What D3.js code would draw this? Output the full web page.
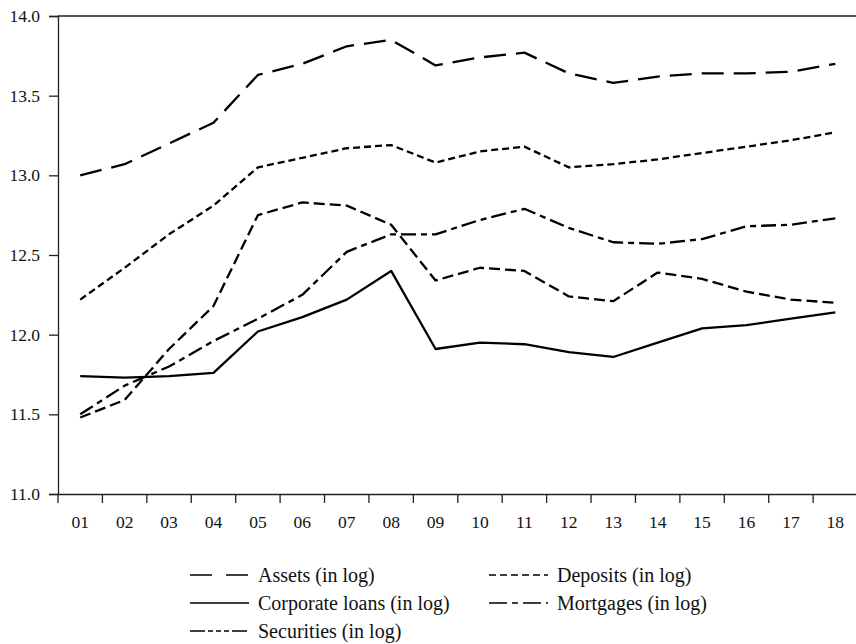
<!DOCTYPE html>
<html>
<head>
<meta charset="utf-8">
<script src="https://cdn.jsdelivr.net/npm/d3@7"></script>
<style>
	body { margin: 0; background: #fff; }
	svg { display: block; }
	.axis text { font-family: "Liberation Serif", "DejaVu Serif", serif; font-size: 17.5px; fill: #111; }
	.legend text { font-family: "Liberation Serif", "DejaVu Serif", serif; font-size: 20px; fill: #111; }
	.series { fill: none; stroke: #000; stroke-width: 2.3; stroke-linejoin: round; }
</style>
</head>
<body>
<div id="chart-div"></div>
<script>
//Data

	var years = ["01","02","03","04","05","06","07","08","09","10","11","12","13","14","15","16","17","18"];

	var assets = [13.00,13.07,13.20,13.33,13.63,13.70,13.81,13.85,13.69,13.74,13.77,13.64,13.58,13.62,13.64,13.64,13.65,13.70];
	var deposits = [12.22,12.42,12.63,12.81,13.05,13.11,13.17,13.19,13.08,13.15,13.18,13.05,13.07,13.10,13.14,13.18,13.22,13.27];
	var corporateLoans = [11.74,11.73,11.74,11.76,12.02,12.11,12.22,12.40,11.91,11.95,11.94,11.89,11.86,11.95,12.04,12.06,12.10,12.14];
	var mortgages = [11.50,11.68,11.80,11.96,12.10,12.25,12.52,12.63,12.63,12.72,12.79,12.67,12.58,12.57,12.60,12.68,12.69,12.73];
	var securities = [11.48,11.59,11.91,12.18,12.75,12.83,12.81,12.69,12.34,12.42,12.40,12.24,12.21,12.39,12.35,12.27,12.22,12.20];

	var yTicks = [11.0,11.5,12.0,12.5,13.0,13.5,14.0];

	var seriesNames = ["Assets (in log)","Deposits (in log)","Corporate loans (in log)","Mortgages (in log)","Securities (in log)"];

//Canvas

	var W = 856, H = 644;
	var margin = {top: 16, left: 58, bottom: 150};
	var plotW = 18 * 44.42,
		plotH = H - margin.top - margin.bottom;

	var xScale = d3.scaleBand().domain(years).range([margin.left, margin.left + plotW]);
	var yScale = d3.scaleLinear().domain([11, 14]).range([margin.top + plotH, margin.top]);

	var svg = d3.select("#chart-div")
		.append("svg")
		.attr("width", W)
		.attr("height", H);

//Frame (top and right edges)

	svg.append("path")
		.attr("d", "M" + margin.left + "," + margin.top + "H" + (margin.left + plotW) + "V" + (margin.top + plotH))
		.attr("fill", "none")
		.attr("stroke", "#222")
		.attr("stroke-width", 1.3);

//Axes

	//X axis: ticks sit between the years, labels on the year
	var xAxisG = svg.append("g")
		.attr("class", "axis x-axis")
		.attr("transform", "translate(0," + (margin.top + plotH) + ")")
		.call(d3.axisBottom(xScale).tickSize(0).tickPadding(22));
	xAxisG.select(".domain").attr("stroke", "#222").attr("stroke-width", 1.3);
	xAxisG.selectAll(".between")
		.data(years)
		.enter()
		.append("line")
			.attr("class", "between")
			.attr("x1", function(d) { return xScale(d); })
			.attr("x2", function(d) { return xScale(d); })
			.attr("y1", 0)
			.attr("y2", 9)
			.attr("stroke", "#222")
			.attr("stroke-width", 1.3);

	//Y axis
	var yAxisG = svg.append("g")
		.attr("class", "axis y-axis")
		.attr("transform", "translate(" + margin.left + ",0)")
		.call(d3.axisLeft(yScale).tickValues(yTicks).tickFormat(d3.format(".1f")).tickSizeOuter(0).tickSize(9).tickPadding(9));
	yAxisG.select(".domain").attr("stroke", "#222").attr("stroke-width", 1.3);
	yAxisG.selectAll(".tick line").attr("stroke", "#222").attr("stroke-width", 1.3);

//Lines

	var series = [
		{name: seriesNames[0], values: assets, dash: "22,10", legendDash: "22,14", col: 0, row: 0},
		{name: seriesNames[1], values: deposits, dash: "7,4", legendDash: "7,4", col: 1, row: 0},
		{name: seriesNames[2], values: corporateLoans, dash: null, legendDash: null, col: 0, row: 1},
		{name: seriesNames[3], values: mortgages, dash: "15,5,6,5", legendDash: "18,5,6,5", col: 1, row: 1},
		{name: seriesNames[4], values: securities, dash: "11,5", legendDash: "15,3,5,3,5,3,5,3", col: 0, row: 2}
	];

	var line = d3.line()
		.x(function(d, i) { return xScale(years[i]) + xScale.bandwidth() / 2; })
		.y(function(d) { return yScale(d); });

	svg.selectAll(".series")
		.data(series)
		.enter()
		.append("path")
			.attr("class", "series")
			.attr("d", function(d) { return line(d.values); })
			.attr("stroke-dasharray", function(d) { return d.dash; });

//Legend

	var legendCols = [190, 489],
		legendRows = [575, 603, 631],
		legendLen = 59;

	var legend = svg.append("g").attr("class", "legend");

	var items = legend.selectAll("g")
		.data(series)
		.enter()
		.append("g")
			.attr("transform", function(d) { return "translate(" + legendCols[d.col] + "," + legendRows[d.row] + ")"; });

	items.append("line")
		.attr("x1", 0)
		.attr("x2", legendLen)
		.attr("stroke", "#000")
		.attr("stroke-width", 1.5)
		.attr("stroke-dasharray", function(d) { return d.legendDash; });

	items.append("text")
		.attr("x", legendLen + 9)
		.attr("dy", "0.33em")
		.text(function(d) { return d.name; });
</script>
</body>
</html>
